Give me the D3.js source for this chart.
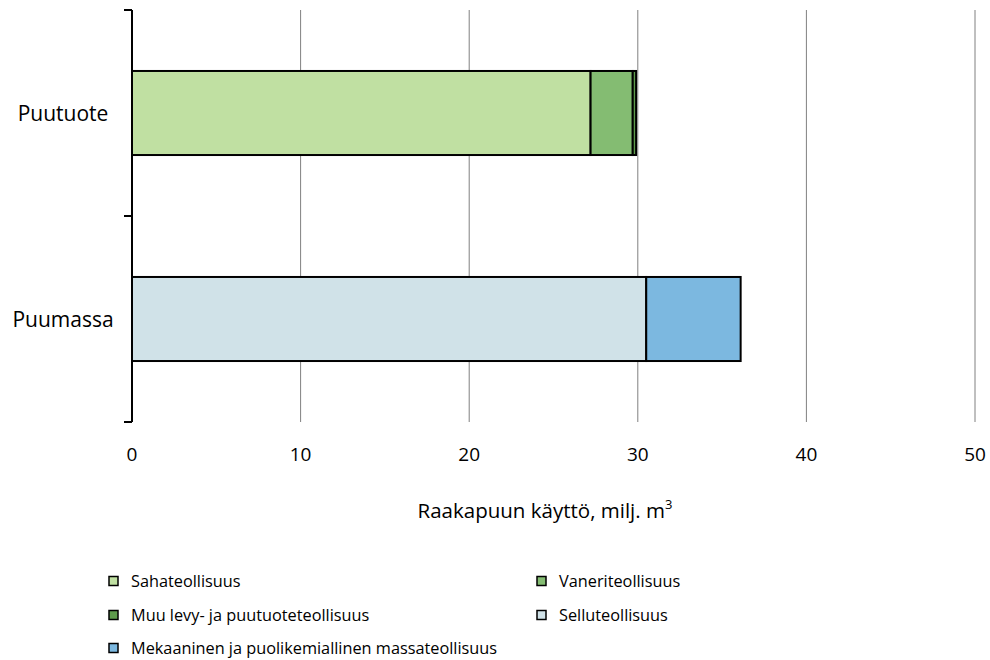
<!DOCTYPE html>
<html><head><meta charset="utf-8">
<script src="https://cdn.jsdelivr.net/npm/d3@7/dist/d3.min.js"></script>
<style>body{margin:0;background:#fff;} text{font-family:"Open Sans","Noto Sans",sans-serif;fill:#000;}</style>
</head><body><svg id="c" width="990" height="660"></svg>
<script>
const categories = ["Puutuote", "Puumassa"];
const seriesNames = ["Sahateollisuus", "Vaneriteollisuus", "Muu levy- ja puutuoteteollisuus", "Selluteollisuus", "Mekaaninen ja puolikemiallinen massateollisuus"];
const sahateollisuus = [27.2, 0];
const vaneriteollisuus = [2.5, 0];
const muuLevy = [0.2, 0];
const selluteollisuus = [0, 30.5];
const mekaaninen = [0, 5.6];
const seriesColors = ["#C0E0A2", "#84BC72", "#5E9B4C", "#D0E2E8", "#7CB8E0"];
const xTicks = [0, 10, 20, 30, 40, 50];
const xTitle = "Raakapuun käyttö, milj. m";

const values = [sahateollisuus, vaneriteollisuus, muuLevy, selluteollisuus, mekaaninen];
const table = categories.map((c, i) => {
  const o = {cat: c};
  seriesNames.forEach((s, j) => o[s] = values[j][i]);
  return o;
});
const stacked = d3.stack().keys(seriesNames)(table);

const svg = d3.select("#c");
const x = d3.scaleLinear().domain([0, 50]).range([132, 975]);
const y = d3.scaleBand().domain(categories).range([10, 422]).paddingInner(0.592).paddingOuter(0.296);

// gridlines
svg.append("g").selectAll("line").data(xTicks.filter(t => t > 0)).join("line")
  .attr("x1", d => x(d)).attr("x2", d => x(d)).attr("y1", 10).attr("y2", 422)
  .attr("stroke", "#808080").attr("stroke-width", 1);

// bars
svg.append("g").selectAll("g").data(stacked).join("g")
  .attr("fill", (d, i) => seriesColors[i])
  .selectAll("rect").data(d => d.filter(p => p[1] - p[0] > 0)).join("rect")
  .attr("x", d => x(d[0])).attr("width", d => x(d[1]) - x(d[0]))
  .attr("y", d => y(d.data.cat)).attr("height", y.bandwidth())
  .attr("stroke", "#000").attr("stroke-width", 2);

// y axis line and boundary ticks
const bounds = [10, 216, 422];
svg.append("line").attr("x1", 132).attr("x2", 132).attr("y1", 10).attr("y2", 422).attr("stroke", "#000").attr("stroke-width", 2);
svg.append("g").selectAll("line").data(bounds).join("line")
  .attr("x1", 124).attr("x2", 132).attr("y1", d => d).attr("y2", d => d)
  .attr("stroke", "#000").attr("stroke-width", 2);

// category labels
svg.append("g").selectAll("text").data(categories).join("text")
  .attr("x", 63).attr("y", d => y(d) + y.bandwidth() / 2)
  .attr("text-anchor", "middle").attr("dominant-baseline", "central")
  .attr("font-size", 21).text(d => d);

// x tick labels
svg.append("g").selectAll("text").data(xTicks).join("text")
  .attr("x", d => x(d)).attr("y", 461).attr("text-anchor", "middle")
  .attr("font-size", 19).text(d => d);

// x title
const t = svg.append("text").attr("x", 545).attr("y", 518).attr("text-anchor", "middle").attr("font-size", 20.5);
t.append("tspan").text(xTitle);
t.append("tspan").attr("font-size", 13).attr("dy", -9).text("3");

// legend
const legPos = [[109, 581], [537, 581], [109, 615], [537, 615], [109, 648]];
const lg = svg.append("g").selectAll("g").data(seriesNames).join("g")
  .attr("transform", (d, i) => `translate(${legPos[i][0]},${legPos[i][1]})`);
lg.append("rect").attr("x", 0).attr("y", -4.5).attr("width", 9).attr("height", 9)
  .attr("fill", (d, i) => seriesColors[i]).attr("stroke", "#000").attr("stroke-width", 1.5);
lg.append("text").attr("x", 22).attr("y", 0).attr("dominant-baseline", "central")
  .attr("font-size", 16.3).text(d => d);
</script></body></html>
